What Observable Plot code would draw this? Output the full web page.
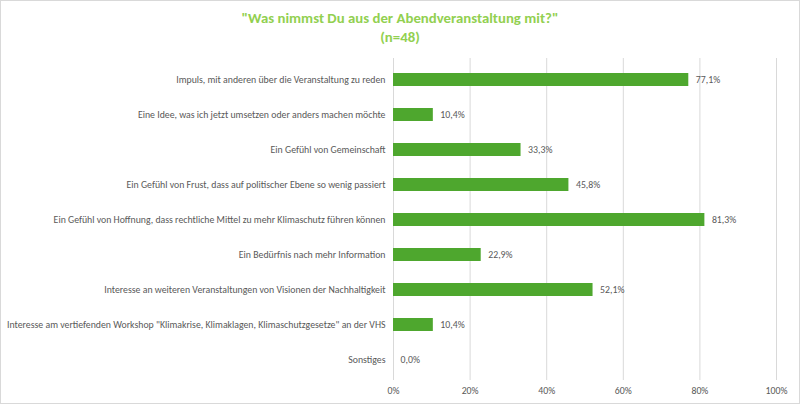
<!DOCTYPE html>
<html>
<head>
<meta charset="utf-8">
<script src="https://cdn.jsdelivr.net/npm/d3@7"></script>
<script src="https://cdn.jsdelivr.net/npm/@observablehq/plot@0.6"></script>
<style>
  html, body { margin: 0; padding: 0; background: #fff; }
  #wrap { width: 800px; height: 404px; box-sizing: border-box; border: 1px solid #d9d9d9; position: relative; overflow: hidden; font-family: Carlito, Lato, "Open Sans", sans-serif; }
  #title { height: 49px; text-align: center; color: #92d050; font-weight: bold; font-size: 14.8px; line-height: 19px; padding-top: 8px; box-sizing: border-box; }
  svg { display: block; }
</style>
</head>
<body>
<div id="wrap">
  <div id="title">"Was nimmst Du aus der Abendveranstaltung mit?"<br>(n=48)</div>
  <div id="chart"></div>
</div>
<script>
const categories = [
  "Impuls, mit anderen über die Veranstaltung zu reden",
  "Eine Idee, was ich jetzt umsetzen oder anders machen möchte",
  "Ein Gefühl von Gemeinschaft",
  "Ein Gefühl von Frust, dass auf politischer Ebene so wenig passiert",
  "Ein Gefühl von Hoffnung, dass rechtliche Mittel zu mehr Klimaschutz führen können",
  "Ein Bedürfnis nach mehr Information",
  "Interesse an weiteren Veranstaltungen von Visionen der Nachhaltigkeit",
  "Interesse am vertiefenden Workshop \"Klimakrise, Klimaklagen, Klimaschutzgesetze\" an der VHS",
  "Sonstiges"
];
const values = [0.771, 0.104, 0.333, 0.458, 0.813, 0.229, 0.521, 0.104, 0.0];
const xTicks = [0, 0.2, 0.4, 0.6, 0.8, 1.0];

const data = categories.map((c, i) => ({cat: c, v: values[i]}));
const fmtVal = v => (v * 100).toFixed(1).replace(".", ",") + "%";

const chart = Plot.plot({
  width: 798,
  height: 353,
  marginTop: 8,
  marginBottom: 23,
  marginLeft: 392,
  marginRight: 23,
  style: { fontFamily: "Carlito, Lato, 'Open Sans', sans-serif", fontSize: "9.8px", color: "#595959", background: "transparent" },
  x: { domain: [0, 1], ticks: xTicks, tickFormat: d => Math.round(d * 100) + "%", label: null },
  y: { domain: categories, label: null, paddingInner: 0.63, paddingOuter: 0.315 },
  marks: [
    Plot.gridX(xTicks, { stroke: "#d9d9d9", strokeOpacity: 1, strokeWidth: 1 }),
    Plot.barX(data, { x: "v", y: "cat", fill: "#4ea72e" }),
    Plot.text(data, { x: "v", y: "cat", text: d => fmtVal(d.v), textAnchor: "start", dx: 7, fill: "#595959", fontSize: 9.8 }),
    Plot.axisX(xTicks, { tickSize: 0, tickPadding: 7, tickFormat: d => Math.round(d * 100) + "%", fill: "#595959", label: null }),
    Plot.axisY({ tickSize: 0, tickPadding: 8, fill: "#595959", label: null, textOverflow: null })
  ]
});
document.getElementById("chart").appendChild(chart);
</script>
</body>
</html>
